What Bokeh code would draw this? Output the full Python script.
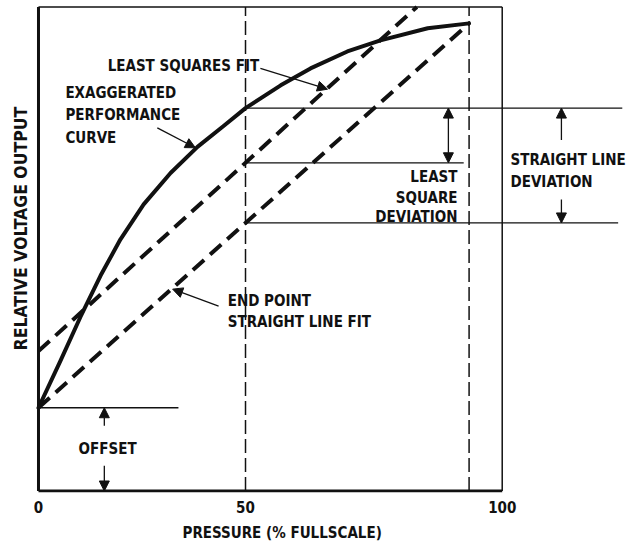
from bokeh.plotting import figure
from bokeh.models import Range1d, FixedTicker, Arrow, NormalHead, Title
from bokeh.core.properties import value
from bokeh.embed import file_html
from bokeh.resources import INLINE

# ---- data ----
pressure = [0, 5.3, 10.1, 15.0, 19.8, 25.4, 31.9, 38.4, 44.7, 50, 58.5, 65.7, 74.6, 82.6, 94.0, 104]
output = [17.2, 26.9, 35.9, 44.5, 52.0, 59.2, 65.7, 71.1, 75.4, 79.1, 83.8, 87.3, 90.8, 93.1, 95.6, 96.6]
ls_intercept = 28.9
ls_slope = 0.778
mid_pressure = 50
box_top = 100
box_right = 112
tick_values = [0, 50, box_right]
tick_labels = ["0", "50", "100"]

FONT = "'Liberation Sans Narrow', 'Arial Narrow', 'DejaVu Sans Condensed', 'Roboto Condensed', sans-serif"
INK = "#111111"

# derived values
offset = output[0]
fs_p, fs_v = pressure[-1], output[-1]
ep_slope = (fs_v - offset) / (fs_p - pressure[0])
curve_mid = output[pressure.index(mid_pressure)]
ls_mid = ls_intercept + ls_slope * mid_pressure
ep_mid = offset + ep_slope * mid_pressure
ls_top_x = (box_top - ls_intercept) / ls_slope

p = figure(width=640, height=548, output_backend="svg", toolbar_location=None,
           x_range=Range1d(-1.93, 145.4), y_range=Range1d(-0.31, 100.5),
           min_border_left=30, min_border_right=0, min_border_top=4, min_border_bottom=54)
p.outline_line_color = None
p.grid.visible = False
p.yaxis.visible = False
p.background_fill_color = "white"

xa = p.xaxis[0]
xa.ticker = FixedTicker(ticks=tick_values)
xa.major_label_overrides = {v: l for v, l in zip(tick_values, tick_labels)}
xa.axis_line_color = None
xa.major_tick_line_color = None
xa.minor_tick_line_color = None
xa.major_tick_out = 0
xa.major_tick_in = 0
xa.major_label_standoff = 8
xa.major_label_text_font = FONT
xa.major_label_text_font_style = "bold"
xa.major_label_text_font_size = "15px"
xa.major_label_text_color = INK

p.add_layout(Title(text="PRESSURE (% FULLSCALE)", align="left", offset=152, standoff=13,
                   text_font=FONT, text_font_style="bold", text_font_size="15px",
                   text_color=INK), "below")
p.add_layout(Title(text="RELATIVE VOLTAGE OUTPUT", align="left", offset=142, standoff=0,
                   text_font=FONT, text_font_style="bold", text_font_size="17.5px",
                   text_color=INK), "left")

# box
p.line([0, 0], [0, box_top], line_width=3, line_color=INK)
p.line([0, box_right], [0, 0], line_width=3, line_color=INK)
p.line([0, box_right], [box_top, box_top], line_width=1.5, line_color=INK)
p.line([box_right, box_right], [0, box_top], line_width=1.5, line_color=INK)

# vertical dashed reference lines
for xv in [mid_pressure, fs_p]:
    p.line([xv, xv], [0, box_top], line_width=1.5, line_color=INK, line_dash="14 5")

# thin horizontal lines
p.line([0, 33.8], [offset, offset], line_width=1.3, line_color=INK)
p.line([mid_pressure, 141], [curve_mid, curve_mid], line_width=1.3, line_color=INK)
p.line([mid_pressure, 102.7], [ls_mid, ls_mid], line_width=1.3, line_color=INK)
p.line([mid_pressure, 140], [ep_mid, ep_mid], line_width=1.3, line_color=INK)

# performance curve
p.line(pressure, output, line_width=4, line_color=INK, line_join="round", line_cap="round")
# least squares fit
p.line([0, ls_top_x], [ls_intercept, box_top], line_width=4, line_color=INK, line_dash="15 8")
# end point straight line
p.line([pressure[0], fs_p], [offset, fs_v], line_width=4, line_color=INK, line_dash="15 8")

def arrow(x0, y0, x1, y1, both=False):
    head = lambda: NormalHead(size=10, fill_color=INK, line_color=INK)
    a = Arrow(x_start=x0, y_start=y0, x_end=x1, y_end=y1, line_width=1.3, line_color=INK,
              end=head(), start=head() if both else None)
    p.add_layout(a)

arrow(99.0, curve_mid, 99.0, ls_mid, both=True)
arrow(126.3, 72.5, 126.3, curve_mid)
arrow(126.3, 60.2, 126.3, ep_mid)
arrow(15.9, 13.5, 15.9, offset)
arrow(15.9, 5.2, 15.9, 0)
arrow(53.6, 87.3, 69.8, 83.0)
arrow(28.7, 75.0, 37.9, 70.9)
arrow(43.5, 38.2, 32.4, 41.7)

def txt(xs, ys, texts, align="left"):
    p.text(xs, ys, text=texts, text_font=value(FONT), text_font_style="bold",
           text_font_size="15px", text_color=INK, text_align=align, text_baseline="middle")

txt([16.7], [87.8], ["LEAST SQUARES FIT"])
txt([6.5] * 3, [82.2, 77.7, 72.9], ["EXAGGERATED", "PERFORMANCE", "CURVE"])
txt([45.7] * 2, [39.2, 34.9], ["END POINT", "STRAIGHT LINE FIT"])
txt([101.2] * 3, [64.9, 60.6, 56.5], ["LEAST", "SQUARE", "DEVIATION"], align="right")
txt([114.0] * 2, [68.4, 63.9], ["STRAIGHT LINE", "DEVIATION"])
txt([16.7], [8.7], ["OFFSET"], align="center")

open("out.html", "w").write(file_html(p, INLINE))
